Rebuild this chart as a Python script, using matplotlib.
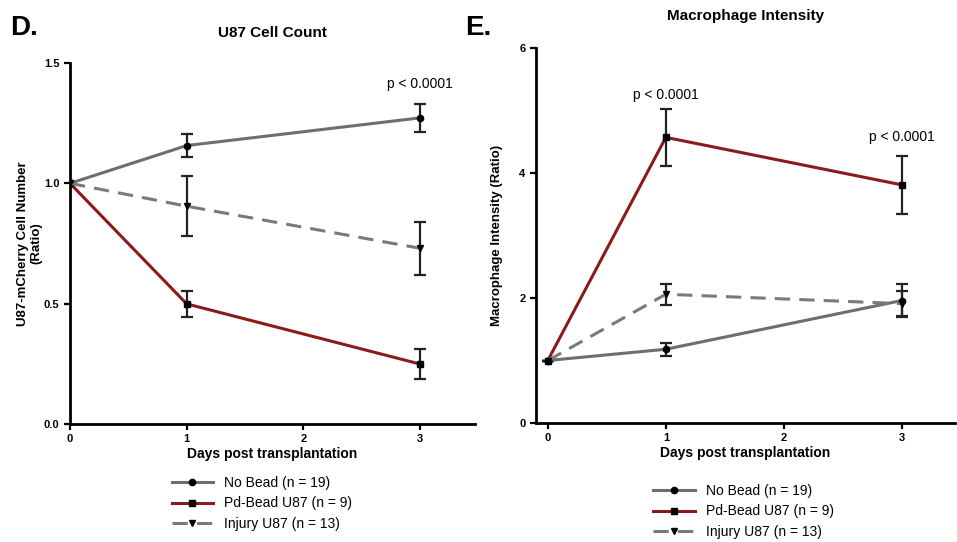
import matplotlib.pyplot as plt

plt.rcParams['font.family'] = ['Liberation Sans', 'DejaVu Sans']
plt.rcParams['font.weight'] = 'bold'

days = [0, 1, 3]

# U87 cell count (ratio)
count_no_bead = [1.0, 1.157, 1.272]
count_no_bead_err = [0.0, 0.047, 0.058]
count_pd_bead = [1.0, 0.499, 0.249]
count_pd_bead_err = [0.0, 0.054, 0.062]
count_injury = [1.0, 0.905, 0.730]
count_injury_err = [0.0, 0.124, 0.110]

# macrophage intensity (ratio)
mac_no_bead = [1.0, 1.18, 1.96]
mac_no_bead_err = [0.0, 0.10, 0.27]
mac_pd_bead = [1.0, 4.57, 3.81]
mac_pd_bead_err = [0.0, 0.45, 0.46]
mac_injury = [1.0, 2.06, 1.91]
mac_injury_err = [0.0, 0.17, 0.20]

labels = ['No Bead (n = 19)', 'Pd-Bead U87 (n = 9)', 'Injury U87 (n = 13)']
line_colors = ['#6e6e6e', '#8b1a1a', '#7a7a7a']
markers = ['o', 's', 'v']
styles = ['-', '-', '--']


def draw_panel(ax, series, errs):
    handles = []
    for i in range(3):
        ax.errorbar(days, series[i], yerr=errs[i], fmt='none', ecolor='#222222',
                    elinewidth=1.6, capsize=4, capthick=1.6, zorder=3)
        h, = ax.plot(days, series[i], color=line_colors[i], ls=styles[i], lw=2.2,
                     marker=markers[i], ms=4.5, mfc='black', mec='black', zorder=4,
                     dashes=(5, 3) if styles[i] == '--' else (None, None))
        handles.append(h)
    ax.spines['top'].set_visible(False)
    ax.spines['right'].set_visible(False)
    ax.spines['left'].set_linewidth(2)
    ax.spines['bottom'].set_linewidth(2)
    ax.tick_params(width=1.6, length=4, labelsize=8)
    ax.set_xticks([0, 1, 2, 3])
    ax.set_xlabel('Days post transplantation', fontsize=10, fontweight='bold', labelpad=2)
    return handles


fig = plt.figure(figsize=(9.57, 5.42), dpi=100)

ax1 = fig.add_axes([70 / 957, 1 - 424 / 542, 405 / 957, 361 / 542])
h = draw_panel(ax1, [count_no_bead, count_pd_bead, count_injury],
               [count_no_bead_err, count_pd_bead_err, count_injury_err])
ax1.set_xlim(0, 3.47)
ax1.set_ylim(0, 1.5)
ax1.set_yticks([0.0, 0.5, 1.0, 1.5])
ax1.set_yticklabels(['0.0', '0.5', '1.0', '1.5'])
ax1.set_ylabel('U87-mCherry Cell Number\n(Ratio)', fontsize=9.5, fontweight='bold', labelpad=1)
ax1.set_title('U87 Cell Count', fontsize=11, fontweight='bold', pad=19)
ax1.text(3, 1.413, 'p < 0.0001', ha='center', va='center', fontsize=10, fontweight='normal')
ax1.legend(h, labels, loc='upper left', bbox_to_anchor=(0.22, -0.11), frameon=False,
           prop={'size': 10, 'weight': 'normal'}, handlelength=3.0, labelspacing=0.45)

ax2 = fig.add_axes([536 / 957, 1 - 423 / 542, 419 / 957, 375 / 542])
h = draw_panel(ax2, [mac_no_bead, mac_pd_bead, mac_injury],
               [mac_no_bead_err, mac_pd_bead_err, mac_injury_err])
ax2.set_xlim(-0.1, 3.45)
ax2.set_ylim(0, 6)
ax2.set_yticks([0, 2, 4, 6])
ax2.set_ylabel('Macrophage Intensity (Ratio)', fontsize=9.5, fontweight='bold', labelpad=12)
ax2.set_title('Macrophage Intensity', fontsize=11, fontweight='bold', pad=20)
ax2.text(1, 5.25, 'p < 0.0001', ha='center', va='center', fontsize=10, fontweight='normal')
ax2.text(3, 4.58, 'p < 0.0001', ha='center', va='center', fontsize=10, fontweight='normal')
ax2.legend(h, labels, loc='upper left', bbox_to_anchor=(0.25, -0.13), frameon=False,
           prop={'size': 10, 'weight': 'normal'}, handlelength=3.0, labelspacing=0.45)

fig.text(10 / 957, 1 - 28 / 542, 'D.', fontsize=20, fontweight='bold', va='center')
fig.text(465 / 957, 1 - 28 / 542, 'E.', fontsize=20, fontweight='bold', va='center')

fig.savefig('out.png', dpi=100)
